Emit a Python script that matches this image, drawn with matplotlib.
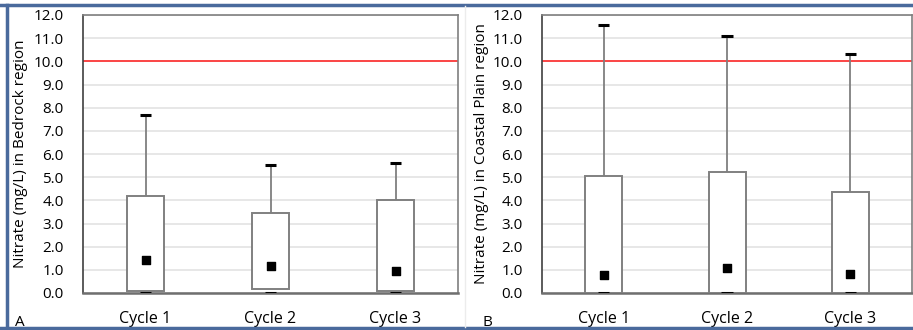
from matplotlib import pyplot as plt
from matplotlib.lines import Line2D

# box plot summary values (mg/L)
cycles = ["Cycle 1", "Cycle 2", "Cycle 3"]
ticks = [0, 1, 2, 3, 4, 5, 6, 7, 8, 9, 10, 11, 12]
limit = 10.0

bed_min = [0.0, 0.0, 0.0]
bed_q1 = [0.10, 0.16, 0.10]
bed_q3 = [4.17, 3.45, 4.03]
bed_max = [7.67, 5.52, 5.63]
bed_mean = [1.44, 1.15, 0.97]

cst_min = [0.0, 0.0, 0.0]
cst_q1 = [0.0, 0.0, 0.0]
cst_q3 = [5.03, 5.21, 4.37]
cst_max = [11.58, 11.08, 10.30]
cst_mean = [0.78, 1.10, 0.81]

plt.rcParams['font.family'] = ['Open Sans', 'DejaVu Sans']

W, H = 913, 330
fig = plt.figure(figsize=(W / 100, H / 100), dpi=100)


def draw_panel(rect, qmin, q1, q3, qmax, mean, ylabel, letter, letter_x):
    ax = fig.add_axes(rect)
    x = list(range(len(cycles)))
    ax.set_xlim(-0.5, len(cycles) - 0.5)
    ax.set_ylim(0, 12)
    ax.set_yticks(ticks)
    ax.set_yticklabels(["%.1f" % t for t in ticks], fontsize=11)
    ax.set_xticks(x)
    ax.set_xticklabels(cycles, fontsize=11.5)
    ax.tick_params(axis='both', length=0)
    ax.tick_params(axis='y', pad=14)
    ax.tick_params(axis='x', pad=13)
    ax.grid(axis='y', color='#e3e3e3', linewidth=1.2)
    ax.set_axisbelow(True)
    for s in ax.spines.values():
        s.set_color('#7f7f7f')
        s.set_linewidth(1.2)
    ax.spines['bottom'].set_color('#6f6f6f')
    ax.spines['bottom'].set_linewidth(1.8)
    ax.spines['left'].set_color('#404040')

    ax.axhline(limit, color='#ff2a2a', linewidth=1.2, zorder=2)

    heights = [b - a for a, b in zip(q1, q3)]
    ax.bar(x, heights, bottom=q1, width=0.3, facecolor='white',
           edgecolor='#808080', linewidth=1.4, zorder=3)
    ax.vlines(x, q3, qmax, color='#7f7f7f', linewidth=1.3, zorder=3)
    ax.hlines(qmax, [i - 0.045 for i in x], [i + 0.045 for i in x],
              color='black', linewidth=2.2, zorder=4)
    ax.hlines(qmin, [i - 0.045 for i in x], [i + 0.045 for i in x],
              color='black', linewidth=2.2, zorder=4)
    ax.scatter(x, mean, marker='s', s=30, color='black', zorder=5)

    ax.set_ylabel(ylabel, fontsize=11)
    fig.text(letter_x / W, 1 - 322 / H, letter, fontsize=11,
             ha='left', va='center')
    return ax


axA = draw_panel([83 / W, 37 / H, 375 / W, 278 / H],
                 bed_min, bed_q1, bed_q3, bed_max, bed_mean,
                 "Nitrate (mg/L) in Bedrock region", "A", 15)
axA.yaxis.set_label_coords(-0.147, 0.5)
axB = draw_panel([542 / W, 37 / H, 370 / W, 278 / H],
                 cst_min, cst_q1, cst_q3, cst_max, cst_mean,
                 "Nitrate (mg/L) in Coastal Plain region", "B", 482)
axB.yaxis.set_label_coords(-0.143, 0.5)

# outer blue frame and separator
blue = '#4a6a9c'
fig.add_artist(Line2D([0, 1], [1 - 5 / H, 1 - 5 / H], color=blue, linewidth=2.5,
                      transform=fig.transFigure))
fig.add_artist(Line2D([0, 1], [1 - 328 / H, 1 - 328 / H], color=blue, linewidth=2.5,
                      transform=fig.transFigure))
fig.add_artist(Line2D([6.5 / W, 6.5 / W], [1 - 328 / H, 1 - 5 / H], color=blue,
                      linewidth=2.5, transform=fig.transFigure))
fig.add_artist(Line2D([465 / W, 465 / W], [1 - 327 / H, 1 - 6 / H], color='#ececec',
                      linewidth=1, transform=fig.transFigure))

fig.savefig("out.png", dpi=100)
